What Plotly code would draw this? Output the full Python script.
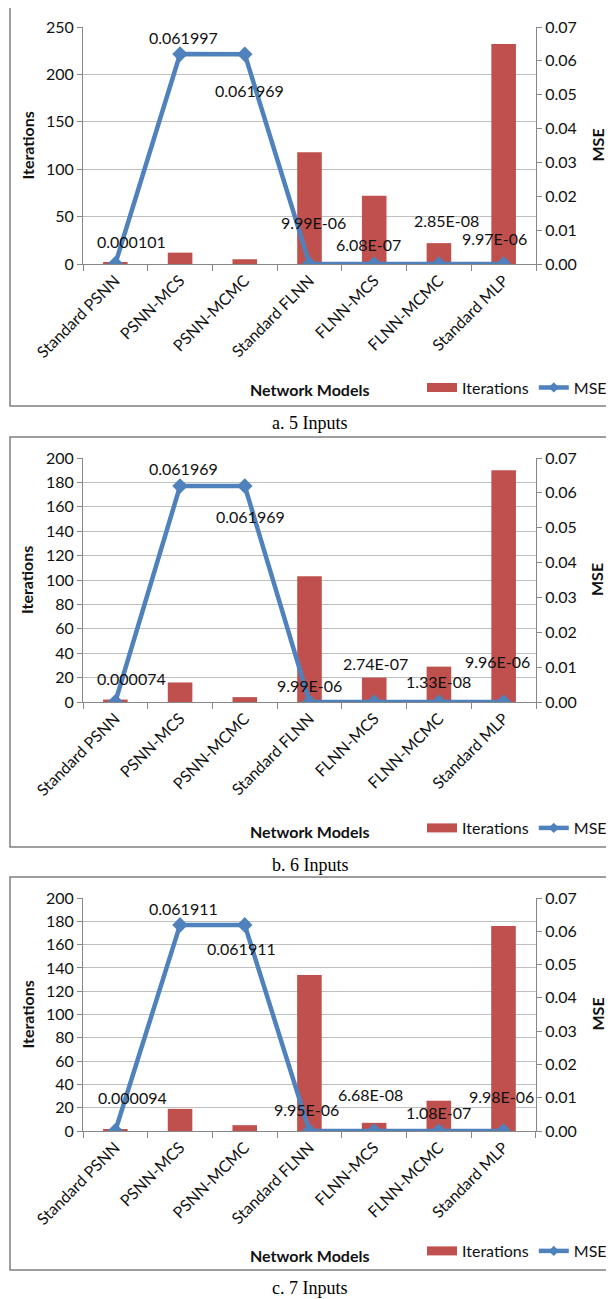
import plotly.graph_objects as go

W, H = 614, 1299
OFF = 8  # page body margin of the html page

categories = ["Standard PSNN", "PSNN-MCS", "PSNN-MCMC", "Standard FLNN",
              "FLNN-MCS", "FLNN-MCMC", "Standard MLP"]

iterations_5 = [2, 12, 5, 118, 72, 22, 232]
mse_5 = [0.000101, 0.061997, 0.061969, 9.99e-06, 6.08e-07, 2.85e-08, 9.97e-06]

iterations_6 = [2, 16, 4, 103, 20, 29, 190]
mse_6 = [0.000074, 0.061969, 0.061969, 9.99e-06, 2.74e-07, 1.33e-08, 9.96e-06]

iterations_7 = [1, 19, 5, 134, 7, 26, 176]
mse_7 = [0.000094, 0.061911, 0.061911, 9.95e-06, 6.68e-08, 1.08e-07, 9.98e-06]

captions = ["a. 5 Inputs", "b. 6 Inputs", "c. 7 Inputs"]
iter_ranges = [250, 200, 200]
iter_dticks = [50, 20, 20]
mse_max = 0.07

# layout (pixel positions in the page) ----------------------------------
panels = [
    dict(top=27, bottom=264, box=(6, 406), cap=423, leg=387.5, title=390),
    dict(top=458, bottom=702, box=(437, 847), cap=865, leg=828, title=831),
    dict(top=898, bottom=1131, box=(877, 1270), cap=1288, leg=1251, title=1255),
]
label_offsets = [
    [(16, -22), (3, -17), (5, 36), (4, -41), (-6, -19), (8, -43), (-9, -25)],
    [(16, -23), (3, -17), (6, 31), (0, -16), (1, -39), (0, -21), (-6, -40)],
    [(17, -33), (3, -16), (-3, 24), (-3, -21), (-4, -37), (0, -19), (-2, -34)],
]
PX_L, PX_R = 83, 536

BAR_COLOR = "#C0504D"
LINE_COLOR = "#4F81BD"
GRID = "#BFBFBF"
AXIS = "#878787"
FONT = "Lato"
FS = 16
TXT = "#111111"


def py(p):
    return 1 - (p - OFF) / H


def px(p):
    return (p - OFF) / W


def fmt(v):
    if v >= 1e-5:
        return f"{v:.6f}"
    return f"{v:.2E}"


datasets = [(iterations_5, mse_5), (iterations_6, mse_6), (iterations_7, mse_7)]

fig = go.Figure()
annotations = []
shapes = []
layout = {}

for i, ((iters, mses), pan) in enumerate(zip(datasets, panels)):
    n = i + 1
    xa = "x" if n == 1 else f"x{n}"
    ya = "y" if n == 1 else f"y{n}"
    ya2 = f"y{n + 3}"
    leg = "legend" if n == 1 else f"legend{n}"

    fig.add_trace(go.Bar(
        x=categories, y=iters, name="Iterations", marker_color=BAR_COLOR,
        marker_line_width=0, width=0.38, xaxis=xa, yaxis=ya, showlegend=False,
    ))
    fig.add_trace(go.Scatter(
        x=categories, y=mses, name="MSE", mode="lines+markers",
        line=dict(color=LINE_COLOR, width=4.5),
        marker=dict(symbol="diamond", size=12, color=LINE_COLOR),
        xaxis=xa, yaxis=ya2, showlegend=False,
    ))
    # legend entries (Excel-style keys)
    fig.add_trace(go.Scatter(
        x=[None], y=[None], name="Iterations", mode="lines",
        line=dict(color=BAR_COLOR, width=9), xaxis=xa, yaxis=ya, legend=leg,
    ))
    fig.add_trace(go.Scatter(
        x=[None], y=[None], name="MSE", mode="lines+markers",
        line=dict(color=LINE_COLOR, width=4.5),
        marker=dict(symbol="diamond", size=8, color=LINE_COLOR),
        xaxis=xa, yaxis=ya2, legend=leg,
    ))

    xkey = "xaxis" if n == 1 else f"xaxis{n}"
    ykey = "yaxis" if n == 1 else f"yaxis{n}"
    y2key = f"yaxis{n + 3}"
    dom_y = [py(pan["bottom"]), py(pan["top"])]

    layout[xkey] = dict(
        domain=[px(PX_L), px(PX_R)], anchor=ya, type="category",
        tickson="boundaries", ticks="outside", ticklen=6, tickcolor=AXIS,
        showline=True, linecolor=AXIS, linewidth=1, tickangle=-45,
        tickfont=dict(family=FONT, size=FS, color=TXT), showgrid=False,
        automargin=False,
    )
    layout[ykey] = dict(
        domain=dom_y, anchor=xa, range=[0, iter_ranges[i]],
        dtick=iter_dticks[i], ticks="outside", ticklen=5, tickcolor=AXIS,
        showline=True, linecolor=AXIS, linewidth=1, showgrid=True,
        gridcolor=GRID, gridwidth=1.3, zeroline=False, automargin=False,
        tickfont=dict(family=FONT, size=FS, color=TXT),
    )
    layout[y2key] = dict(
        overlaying=ya, anchor=xa, side="right", range=[0, mse_max],
        dtick=0.01, tickformat=".2f", ticks="outside", ticklen=5,
        tickcolor=AXIS, showline=True, linecolor=AXIS, linewidth=1,
        showgrid=False, zeroline=False, automargin=False,
        tickfont=dict(family=FONT, size=FS, color=TXT),
    )
    layout[leg] = dict(
        orientation="h", x=px(422), xanchor="left", y=py(pan["leg"]),
        yanchor="middle", font=dict(family=FONT, size=FS, color=TXT),
        bgcolor="rgba(0,0,0,0)", traceorder="normal",
    )

    # data labels
    for cat, v, (dx, dy) in zip(categories, mses, label_offsets[i]):
        annotations.append(dict(
            x=cat, y=v, xref=xa, yref=ya2, text=fmt(v), showarrow=False,
            xanchor="center", yanchor="middle",
            xshift=dx, yshift=-dy, font=dict(family=FONT, size=FS, color=TXT),
        ))

    # axis titles
    mid = (pan["top"] + pan["bottom"]) / 2
    common = dict(xref="paper", yref="paper", showarrow=False,
                  xanchor="center", yanchor="middle")
    annotations.append(dict(
        x=px(27), y=py(mid), text="<b>Iterations</b>", textangle=-90,
        font=dict(family=FONT, size=FS, color=TXT), **common,
    ))
    annotations.append(dict(
        x=px(597), y=py(mid), text="<b>MSE</b>", textangle=-90,
        font=dict(family=FONT, size=FS, color=TXT), **common,
    ))
    annotations.append(dict(
        x=px((PX_L + PX_R) / 2), y=py(pan["title"]),
        text="<b>Network Models</b>",
        font=dict(family=FONT, size=FS, color=TXT), **common,
    ))
    # caption
    annotations.append(dict(
        x=px(310), y=py(pan["cap"]), text=captions[i],
        font=dict(family="Liberation Serif", size=18, color="#000"), **common,
    ))
    # border box
    b0, b1 = pan["box"]
    shapes.append(dict(
        type="rect", xref="paper", yref="paper", x0=px(10), x1=px(640),
        y0=py(b1), y1=py(b0), line=dict(color="#7F7F7F", width=1.5),
        fillcolor="rgba(0,0,0,0)", layer="below",
    ))

fig.update_layout(
    width=W, height=H, margin=dict(l=0, r=0, t=0, b=0, autoexpand=False),
    paper_bgcolor="white", plot_bgcolor="white",
    annotations=annotations, shapes=shapes, showlegend=True,
    barmode="group", **layout,
)

fig.write_html("out.html")
